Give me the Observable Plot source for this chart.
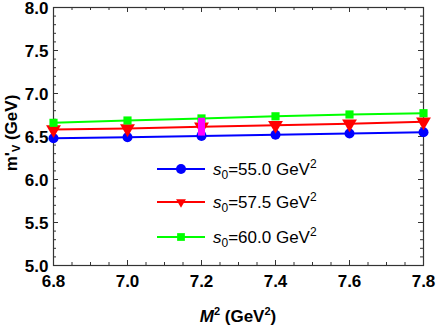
<!DOCTYPE html>
<html><head><meta charset="utf-8">
<script src="https://cdn.jsdelivr.net/npm/d3@7"></script>
<script src="https://cdn.jsdelivr.net/npm/@observablehq/plot@0.6"></script>
<style>body{margin:0;background:#fff} svg{display:block}</style>
</head><body><div id="chart"></div>
<script>
// ---- data ----
const M2 = [6.8, 7.0, 7.2, 7.4, 7.6, 7.8];
const s55 = [6.480, 6.492, 6.507, 6.521, 6.535, 6.550];
const s575 = [6.581, 6.592, 6.612, 6.630, 6.648, 6.671];
const s60 = [6.659, 6.686, 6.710, 6.735, 6.756, 6.771];
const seriesValues = [s55, s575, s60];
const seriesLabels = ["55.0", "57.5", "60.0"];
const seriesColors = ["#0000ff", "#ff0000", "#00ff00"];
const seriesSymbols = ["circle", "triangle", "square"];
const seriesRotate = [0, 180, 0];
const magentaBar = [{x: 7.2, y1: 6.505, y2: 6.712}];
const xTicks = [6.8, 7.0, 7.2, 7.4, 7.6, 7.8];
const yTicks = [5.0, 5.5, 6.0, 6.5, 7.0, 7.5, 8.0];
const xMinor = d3.range(6.8, 7.8001, 0.05);
const yMinor = d3.range(5.0, 8.0001, 0.1);

const W = 436, H = 327, mL = 53, mR = 13, mT = 7, mB = 62;
const innerH = H - mT - mB, innerW = W - mL - mR;
const frameColor = "#333";

const rows = seriesValues.map((vals, i) => M2.map((m, j) => ({M2: m, v: vals[j], i})));

const marks = [];
// ticks (inward, all four sides)
marks.push(Plot.tickX(xMinor, {x: d => d, insetTop: innerH - 3, stroke: frameColor}));
marks.push(Plot.tickX(xTicks, {x: d => d, insetTop: innerH - 5, stroke: frameColor}));
marks.push(Plot.tickX(xMinor, {x: d => d, insetBottom: innerH - 3, stroke: frameColor}));
marks.push(Plot.tickX(xTicks, {x: d => d, insetBottom: innerH - 5, stroke: frameColor}));
marks.push(Plot.tickY(yMinor, {y: d => d, insetRight: innerW - 3, stroke: frameColor}));
marks.push(Plot.tickY(yTicks, {y: d => d, insetRight: innerW - 5, stroke: frameColor}));
marks.push(Plot.tickY(yMinor, {y: d => d, insetLeft: innerW - 3, stroke: frameColor}));
marks.push(Plot.tickY(yTicks, {y: d => d, insetLeft: innerW - 5, stroke: frameColor}));
marks.push(Plot.frame({stroke: frameColor, strokeWidth: 1.2}));

rows.forEach((r, i) => {
  marks.push(Plot.line(r, {x: "M2", y: "v", stroke: seriesColors[i], strokeWidth: 2}));
});
rows.forEach((r, i) => {
  marks.push(Plot.dot(r, {x: "M2", y: "v", fill: seriesColors[i], stroke: "none",
    symbol: seriesSymbols[i], r: i === 0 ? 5 : (i === 1 ? 5.5 : 4.6), rotate: seriesRotate[i]}));
});
marks.push(Plot.ruleX(magentaBar, {x: "x", y1: "y1", y2: "y2", stroke: "#ff00ff", strokeWidth: 7}));

marks.push(Plot.axisX(xTicks, {tickSize: 0, tickPadding: 9, tickFormat: d3.format(".1f"),
  fontSize: 17, fontWeight: "bold", fill: "#000", label: null}));
marks.push(Plot.axisY(yTicks, {tickSize: 0, tickPadding: 5, dy: 1.5, tickFormat: d3.format(".1f"),
  fontSize: 17, fontWeight: "bold", fill: "#000", label: null}));

const chart = Plot.plot({
  width: W, height: H, marginLeft: mL, marginRight: mR, marginTop: mT, marginBottom: mB,
  x: {domain: [6.8, 7.8]}, y: {domain: [5, 8]},
  style: {fontFamily: "'Liberation Sans', Arial, sans-serif", background: "#fff", color: "#000"},
  marks
});
document.getElementById("chart").appendChild(chart);

const svg = d3.select(chart);
const font = "'Liberation Sans', Arial, sans-serif";

// x axis label: M^2 (GeV^2)
const xl = svg.append("text").attr("x", mL + innerW / 2).attr("y", 322)
  .attr("text-anchor", "middle").attr("font-family", font).attr("font-size", 17)
  .attr("font-weight", "bold").attr("fill", "#000");
xl.append("tspan").attr("font-style", "italic").text("M");
xl.append("tspan").attr("font-size", 11).attr("dy", -7).text("2");
xl.append("tspan").attr("dy", 7).text(" (GeV");
xl.append("tspan").attr("font-size", 11).attr("dy", -7).text("2");
xl.append("tspan").attr("dy", 7).text(")");

// y axis label: m'_V (GeV)
const yl = svg.append("text").attr("transform", `translate(17,${mT + innerH / 2 - 3}) rotate(-90)`)
  .attr("text-anchor", "middle").attr("font-family", font).attr("font-size", 17)
  .attr("font-weight", "bold").attr("fill", "#000");
yl.append("tspan").text("m'");
yl.append("tspan").attr("font-size", 11).attr("dy", 3).text("V");
yl.append("tspan").attr("dy", -3).text(" (GeV)");

// legend
const legendY = [169, 202, 237];
const sym = {circle: d3.symbolCircle, triangle: d3.symbolTriangle2, square: d3.symbolSquare};
const lg = svg.append("g").attr("font-family", font).attr("font-size", 17).attr("fill", "#000")
  .attr("text-anchor", "start");
seriesLabels.forEach((lab, i) => {
  const y = legendY[i];
  lg.append("line").attr("x1", 157).attr("x2", 205).attr("y1", y).attr("y2", y)
    .attr("stroke", seriesColors[i]).attr("stroke-width", 2);
  const area = i === 0 ? Math.PI * 25 : (i === 1 ? 70 : 60);
  lg.append("path").attr("d", d3.symbol(sym[seriesSymbols[i]], area)())
    .attr("transform", `translate(181,${y}) rotate(${seriesRotate[i]})`)
    .attr("fill", seriesColors[i]);
  const t = lg.append("text").attr("x", 213).attr("y", y + 6).attr("text-anchor", "start");
  t.append("tspan").attr("font-style", "italic").text("s");
  t.append("tspan").attr("font-size", 12).attr("dy", 4).text("0");
  t.append("tspan").attr("dy", -4).text("=" + lab + " GeV");
  t.append("tspan").attr("font-size", 12).attr("dy", -7).text("2");
});
</script>
</body></html>
